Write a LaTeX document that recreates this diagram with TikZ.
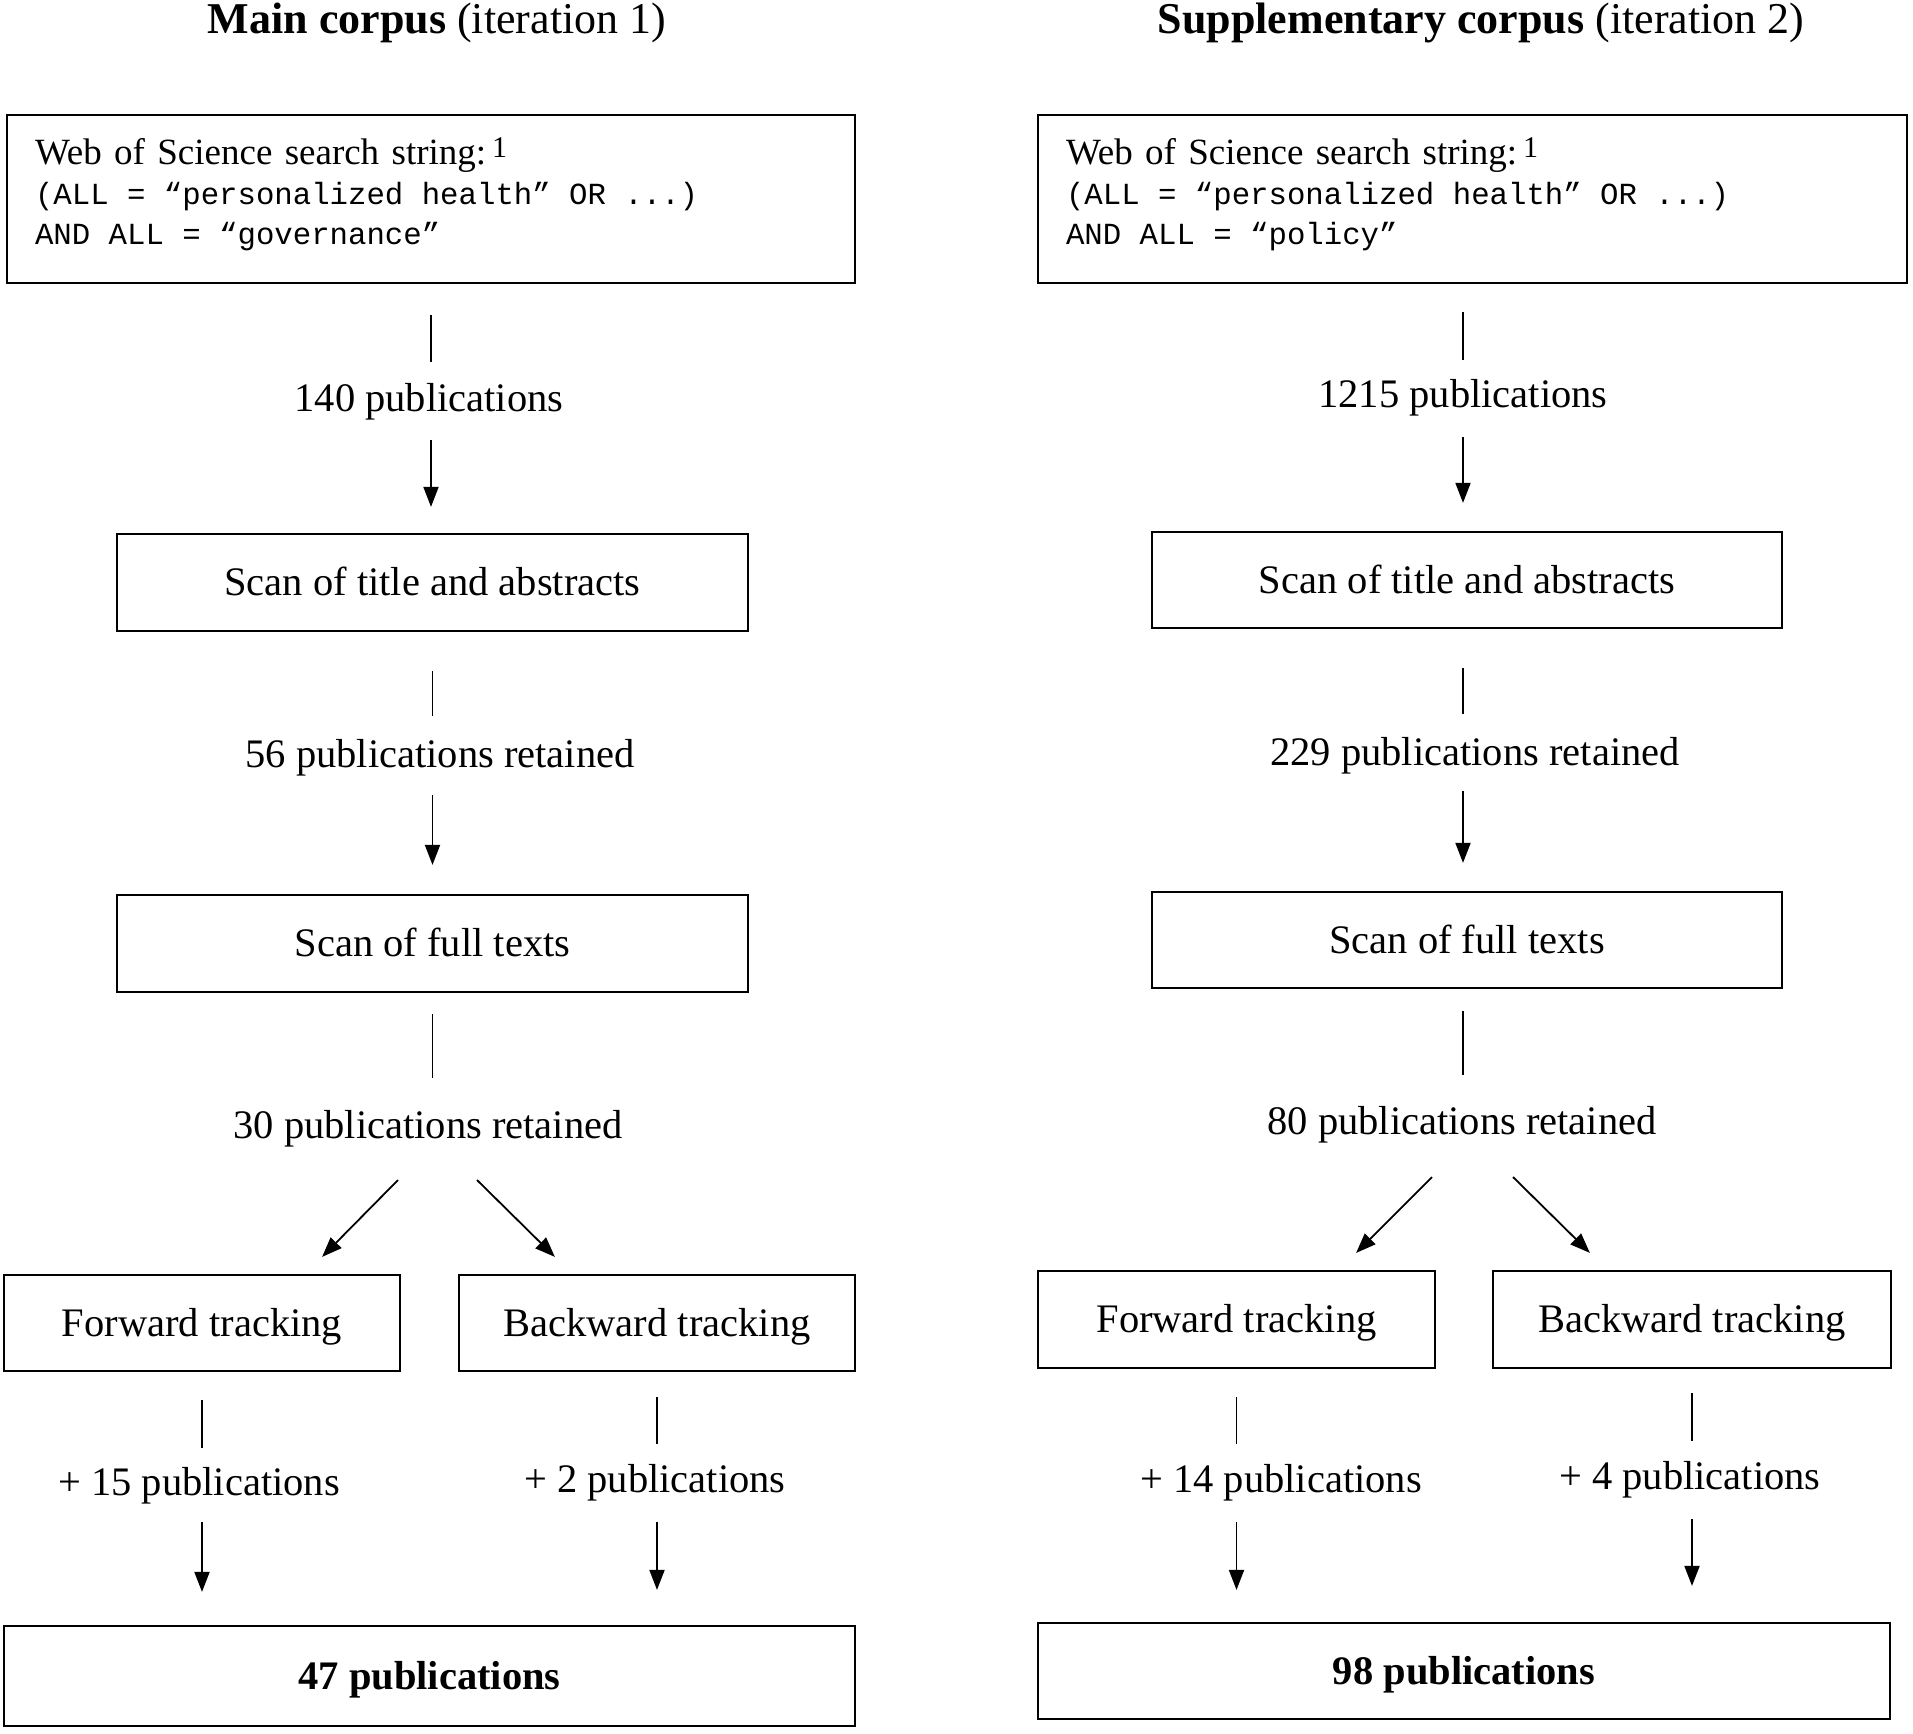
\documentclass[tikz,border=0pt]{standalone}
\usepackage{fontspec}
\setmainfont{Liberation Serif}
\setmonofont{Liberation Mono}
\usetikzlibrary{arrows.meta}
\newcommand{\supone}{\hspace{6pt}{\fontsize{30}{30}\selectfont\raisebox{7pt}{1}}}
\newcommand{\qmono}{\ttfamily\fontsize{30.7}{40}\selectfont\spaceskip=0.6em\relax\xspaceskip=0.6em\relax}
\begin{document}
\begin{tikzpicture}[x=1pt,y=-1pt,
  box/.style={draw, line width=2.2pt, inner sep=0pt, font=\fontsize{40.5}{48}\selectfont, text height=35.5pt, text depth=8.7pt},
  lbl/.style={inner sep=0pt, font=\fontsize{40.5}{48}\selectfont, text height=35.5pt, text depth=8.7pt},
  conn/.style={line width=1.8pt},
  arr/.style={conn, -{Triangle[length=20pt,width=15pt]}},
  ttl/.style={inner sep=0pt, anchor=base, font=\fontsize{44}{52}\selectfont},
  query/.style={draw, line width=2.2pt, inner xsep=28pt, inner ysep=0pt, align=left, text width=#1, minimum height=168pt, font=\fontsize{37}{40}\selectfont}
]
\useasboundingbox (0,0) rectangle (1913,1733);

% titles
\node[ttl] (t1) at (437,33) {\textbf{Main corpus} (iteration 1)};
\node[ttl] (t2) at (1481,33) {\textbf{Supplementary corpus} (iteration 2)};

% ---------- left column ----------
\node[query=792pt] (q1) at (431,199) {Web of Science search string:\supone\\
{\qmono (ALL = “personalized health” OR ...)}\\
{\qmono AND ALL = “governance”\rule[-15pt]{0pt}{1pt}}};
\node[lbl] (l140) at (429,398) {140 publications};
\node[box, minimum width=631pt, minimum height=97pt] (scan1) at (432.5,582.5) {Scan of title and abstracts};
\node[lbl] (l56) at (440,754) {56 publications retained};
\node[box, minimum width=631pt, minimum height=97pt] (full1) at (432.5,943.5) {Scan of full texts};
\node[lbl] (l30) at (428,1125) {30 publications retained};
\node[box, minimum width=396pt, minimum height=96pt] (fwd1) at (202,1323) {Forward tracking};
\node[box, minimum width=396pt, minimum height=96pt] (bwd1) at (657,1323) {Backward tracking};
\node[lbl] (l15) at (199,1482) {+ 15 publications};
\node[lbl] (l2) at (655,1479) {+ 2 publications};
\node[box, minimum width=851pt, minimum height=100pt] (fin1) at (429.5,1676) {\textbf{47 publications}};

\draw[conn, shorten <=31pt, shorten >=14pt] (q1.south) -- (q1.south |- l140.north);
\draw[arr, shorten <=20pt, shorten >=26pt] (q1.south |- l140.south) -- (q1.south |- scan1.north);
\draw[conn, shorten <=39pt, shorten >=16pt] (scan1.south) -- (scan1.south |- l56.north);
\draw[arr, shorten <=19pt, shorten >=29pt] (scan1.south |- l56.south) -- (scan1.south |- full1.north);
\draw[conn, shorten <=21pt, shorten >=25pt] (full1.south) -- (full1.south |- l30.north);
\draw[arr] ([xshift=-30pt,yshift=-55pt]l30.center) -- ([xshift=-79pt,yshift=17pt]fwd1.north east);
\draw[arr] ([xshift=49pt,yshift=-55pt]l30.center) -- ([xshift=97pt,yshift=17pt]bwd1.north west);
\draw[conn, shorten <=28pt, shorten >=12pt] (fwd1.south) -- (fwd1.south |- l15.north);
\draw[arr, shorten <=18pt, shorten >=33pt] (fwd1.south |- l15.south) -- (fwd1.south |- fin1.north);
\draw[conn, shorten <=25pt, shorten >=13pt] (bwd1.south) -- (bwd1.south |- l2.north);
\draw[arr, shorten <=21pt, shorten >=35pt] (bwd1.south |- l2.south) -- (bwd1.south |- fin1.north);

% ---------- right column ----------
\node[query=813pt] (q2) at (1472.5,199) {Web of Science search string:\supone\\
{\qmono (ALL = “personalized health” OR ...)}\\
{\qmono AND ALL = “policy”\rule[-15pt]{0pt}{1pt}}};
\node[lbl] (l1215) at (1463,394) {1215 publications};
\node[box, minimum width=630pt, minimum height=96pt] (scan2) at (1467,580) {Scan of title and abstracts};
\node[lbl] (l229) at (1475,752) {229 publications retained};
\node[box, minimum width=630pt, minimum height=96pt] (full2) at (1467,940) {Scan of full texts};
\node[lbl] (l80) at (1462,1121) {80 publications retained};
\node[box, minimum width=397pt, minimum height=97pt] (fwd2) at (1236.5,1319.5) {Forward tracking};
\node[box, minimum width=398pt, minimum height=97pt] (bwd2) at (1692,1319.5) {Backward tracking};
\node[lbl] (l14) at (1281,1479) {+ 14 publications};
\node[lbl] (l4) at (1690,1476) {+ 4 publications};
\node[box, minimum width=852pt, minimum height=96pt] (fin2) at (1464,1671) {\textbf{98 publications}};

\draw[conn, shorten <=28pt, shorten >=12pt] (l1215.north |- q2.south) -- (l1215.north);
\draw[arr, shorten <=21pt, shorten >=28pt] (l1215.south) -- (l1215.south |- scan2.north);
\draw[conn, shorten <=39pt, shorten >=16pt] (l1215.south |- scan2.south) -- (l1215.south |- l229.north);
\draw[arr, shorten <=17pt, shorten >=28pt] (l1215.south |- l229.south) -- (l1215.south |- full2.north);
\draw[conn, shorten <=22pt, shorten >=24pt] (l1215.south |- full2.south) -- (l1215.south |- l80.north);
\draw[arr] ([xshift=-30pt,yshift=-56pt]l80.center) -- ([xshift=-80pt,yshift=17pt]fwd2.north east);
\draw[arr] ([xshift=51pt,yshift=-56pt]l80.center) -- ([xshift=98pt,yshift=17pt]bwd2.north west);
\draw[conn, shorten <=28pt, shorten >=13pt] (fwd2.south) -- (fwd2.south |- l14.north);
\draw[arr, shorten <=21pt, shorten >=32pt] (fwd2.south |- l14.south) -- (fwd2.south |- fin2.north);
\draw[conn, shorten <=24pt, shorten >=13pt] (bwd2.south) -- (bwd2.south |- l4.north);
\draw[arr, shorten <=21pt, shorten >=36pt] (bwd2.south |- l4.south) -- (bwd2.south |- fin2.north);
\end{tikzpicture}
\end{document}
